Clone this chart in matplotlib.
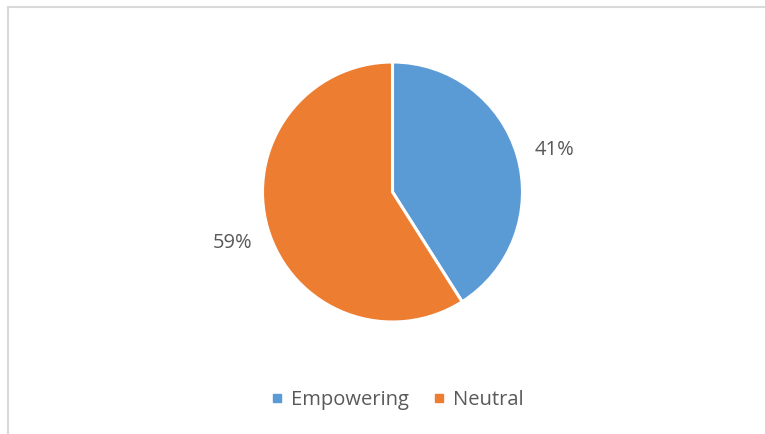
import matplotlib
matplotlib.use("Agg")
import matplotlib.pyplot as plt
import matplotlib.transforms as mtransforms
from matplotlib.lines import Line2D

plt.rcParams['font.family'] = ['Open Sans', 'DejaVu Sans']

labels = ['Empowering', 'Neutral']
shares = [41, 59]
colors = ['#5B9BD5', '#ED7D31']

W, H = 765, 434
fig = plt.figure(figsize=(W / 100, H / 100), dpi=100)
fig.patch.set_facecolor('white')

# pie area: centre (392.5, 192) px, radius 130 px
cx, cy, r = 392.5, 192, 130
ax = fig.add_axes([(cx - r) / W, (H - cy - r) / H, 2 * r / W, 2 * r / H])
wedges, _, autotexts = ax.pie(
    shares, colors=colors, startangle=90, counterclock=False,
    autopct=lambda p: '{:.0f}%'.format(p), pctdistance=1.29, radius=1,
    wedgeprops=dict(edgecolor='white', linewidth=2.2),
    textprops=dict(color='#595959', fontsize=14.5))
# nudge the percentage labels so the digits sit centred on the anchor
for t in autotexts:
    t.set_transform(mtransforms.offset_copy(ax.transData, fig=fig, x=1, y=-4.5, units='dots'))
ax.set_xlim(-1, 1)
ax.set_ylim(-1, 1)
ax.set_aspect('equal')
ax.axis('off')

# legend at the bottom
handles = [Line2D([], [], marker='s', linestyle='none', markersize=6,
                  markerfacecolor=c, markeredgecolor=c) for c in colors]
fig.legend(handles, labels, loc='center', bbox_to_anchor=(0.518, 1 - 400 / H),
           ncol=2, frameon=False, fontsize=14.5, labelcolor='#595959',
           handletextpad=0.3, columnspacing=1.1, handlelength=0.8)

# chart frame (top and left edges)
fig.add_artist(Line2D([8 / W, 1.0], [1 - 7 / H, 1 - 7 / H], color='#d9d9d9', linewidth=1.5))
fig.add_artist(Line2D([8 / W, 8 / W], [0.0, 1 - 7 / H], color='#d9d9d9', linewidth=1.5))

fig.savefig('out.png', dpi=100)
